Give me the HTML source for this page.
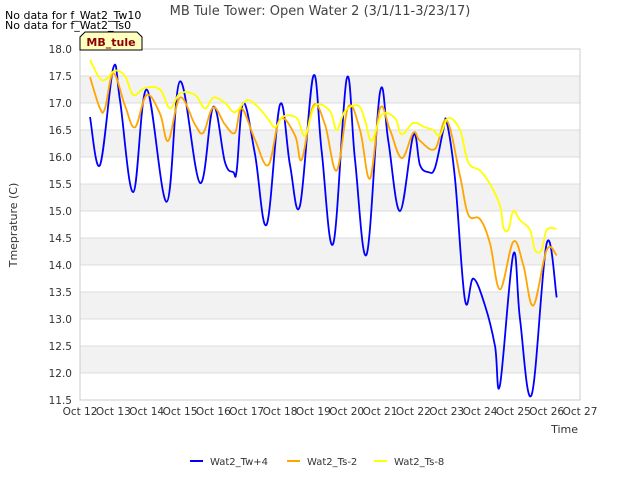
<!DOCTYPE html>
<html><head><meta charset="utf-8"><style>
body{margin:0;background:#fff;font-family:"DejaVu Sans","Liberation Sans",sans-serif;}
svg text{font-family:"DejaVu Sans","Liberation Sans",sans-serif;}
</style></head><body>
<svg id="chart" width="640" height="480" xmlns="http://www.w3.org/2000/svg">
<rect width="640" height="480" fill="#fff"/>
<text x="320" y="15" text-anchor="middle" font-size="13" fill="#444">MB Tule Tower: Open Water 2 (3/1/11-3/23/17)</text>
<text x="5" y="19" font-size="11" fill="#000">No data for f_Wat2_Tw10</text>
<text x="5" y="29" font-size="11" fill="#000">No data for f_Wat2_Ts0</text>
<g id="grid"></g>
<g id="series"></g>
<g>
<path d="M80,50 L80,37 L85,32 L137,32 L142,37 L142,50 Z" fill="#ffffc0" stroke="#000" stroke-width="1"/>
<text x="111" y="46" text-anchor="middle" font-size="11" font-weight="bold" fill="#8b0000">MB_tule</text>
</g>
<text transform="translate(17,225) rotate(-90)" text-anchor="middle" font-size="11" fill="#333">Tmeprature (C)</text>
<text x="578" y="433" text-anchor="end" font-size="11" fill="#333">Time</text>
<g id="legend"></g>
</svg>
<script>
const xTicks=["Oct 12","Oct 13","Oct 14","Oct 15","Oct 16","Oct 17","Oct 18","Oct 19","Oct 20","Oct 21","Oct 22","Oct 23","Oct 24","Oct 25","Oct 26","Oct 27"];
const yTicks=[11.5,12.0,12.5,13.0,13.5,14.0,14.5,15.0,15.5,16.0,16.5,17.0,17.5,18.0];
const seriesNames=["Wat2_Tw+4","Wat2_Ts-2","Wat2_Ts-8"];
const seriesColors=["#0000ff","#ffa500","#ffff00"];
const tw4=[[0.3,16.74],[0.6,15.85],[1.0,17.65],[1.2,17.05],[1.6,15.35],[2.0,17.25],[2.6,15.17],[3.0,17.4],[3.6,15.52],[4.0,16.93],[4.35,15.9],[4.6,15.72],[4.7,15.75],[4.9,17.0],[5.25,16.05],[5.6,14.75],[6.0,16.97],[6.3,15.85],[6.6,15.1],[7.0,17.5],[7.25,16.1],[7.6,14.4],[8.0,17.45],[8.25,15.95],[8.6,14.2],[9.0,17.2],[9.25,16.3],[9.6,15.0],[10.0,16.4],[10.2,15.85],[10.45,15.72],[10.65,15.8],[10.9,16.5],[11.0,16.65],[11.25,15.6],[11.55,13.35],[11.8,13.75],[12.15,13.25],[12.45,12.5],[12.6,11.78],[13.0,14.2],[13.2,13.0],[13.55,11.6],[14.0,14.4],[14.3,13.4]];
const ts2=[[0.3,17.48],[0.6,16.9],[0.75,16.9],[1.0,17.55],[1.35,16.95],[1.65,16.55],[2.0,17.15],[2.4,16.8],[2.65,16.3],[3.0,17.1],[3.45,16.6],[3.7,16.45],[4.0,16.92],[4.35,16.6],[4.65,16.45],[4.85,16.9],[5.25,16.32],[5.65,15.85],[6.0,16.7],[6.45,16.4],[6.65,15.95],[7.0,16.95],[7.35,16.6],[7.7,15.75],[8.05,16.93],[8.4,16.5],[8.7,15.6],[9.0,16.9],[9.3,16.5],[9.65,15.98],[10.0,16.45],[10.2,16.3],[10.65,16.15],[11.0,16.68],[11.4,15.65],[11.65,14.93],[12.0,14.85],[12.3,14.4],[12.6,13.55],[13.0,14.43],[13.3,14.0],[13.6,13.25],[14.0,14.28],[14.3,14.18]];
const ts8=[[0.3,17.8],[0.6,17.45],[0.8,17.45],[1.05,17.6],[1.35,17.5],[1.6,17.15],[1.95,17.28],[2.4,17.25],[2.7,16.9],[3.0,17.18],[3.45,17.15],[3.75,16.9],[4.0,17.1],[4.35,17.0],[4.65,16.83],[5.0,17.05],[5.3,16.95],[5.65,16.7],[5.85,16.55],[6.1,16.75],[6.5,16.72],[6.75,16.4],[7.05,16.95],[7.5,16.85],[7.7,16.5],[7.95,16.85],[8.35,16.95],[8.55,16.68],[8.75,16.3],[9.05,16.78],[9.45,16.72],[9.65,16.42],[10.0,16.63],[10.35,16.55],[10.6,16.5],[10.8,16.4],[11.05,16.72],[11.4,16.5],[11.65,15.9],[12.0,15.75],[12.3,15.5],[12.6,15.1],[12.7,14.7],[12.85,14.65],[13.0,15.0],[13.2,14.83],[13.5,14.65],[13.65,14.28],[13.85,14.28],[14.0,14.65],[14.3,14.67]];
const X0=80,X1=580,Y0=400,Y1=49,YMIN=11.5,YMAX=18.0,DAYS=15;
function xs(d){return X0+(X1-X0)*d/DAYS;}
function ys(v){return Y0-(Y0-Y1)*(v-YMIN)/(YMAX-YMIN);}
function smoothPath(pts){
  let d='M'+pts[0][0].toFixed(1)+','+pts[0][1].toFixed(1);
  for(let i=0;i<pts.length-1;i++){
    const p0=pts[Math.max(0,i-1)],p1=pts[i],p2=pts[i+1],p3=pts[Math.min(pts.length-1,i+2)];
    const t=0.18;
    const c1x=p1[0]+(p2[0]-p0[0])*t,c1y=p1[1]+(p2[1]-p0[1])*t;
    const c2x=p2[0]-(p3[0]-p1[0])*t,c2y=p2[1]-(p3[1]-p1[1])*t;
    d+=' C'+c1x.toFixed(1)+','+c1y.toFixed(1)+' '+c2x.toFixed(1)+','+c2y.toFixed(1)+' '+p2[0].toFixed(1)+','+p2[1].toFixed(1);
  }
  return d;
}
const NS="http://www.w3.org/2000/svg";
const grid=document.getElementById('grid');
for(let i=0;i<yTicks.length-1;i++){
  if(i%2===1){const r=document.createElementNS(NS,'rect');
  
  
  r.setAttribute('x',X0);r.setAttribute('width',X1-X0);
  r.setAttribute('y',ys(yTicks[i+1]));r.setAttribute('height',ys(yTicks[i])-ys(yTicks[i+1]));
  r.setAttribute('fill','#f2f2f2');grid.appendChild(r);}
}
yTicks.forEach(v=>{
  const l=document.createElementNS(NS,'line');
  
  
  l.setAttribute('x1',X0);l.setAttribute('x2',X1);l.setAttribute('y1',ys(v));l.setAttribute('y2',ys(v));
  l.setAttribute('stroke','#dcdcdc');grid.appendChild(l);
  const t=document.createElementNS(NS,'text');
  
  
  t.setAttribute('x',X0-8);t.setAttribute('y',ys(v)+4);t.setAttribute('text-anchor','end');
  t.setAttribute('font-size','10.5');t.setAttribute('fill','#333');t.textContent=v.toFixed(1);grid.appendChild(t);
});
const frame=document.createElementNS(NS,'rect');


frame.setAttribute('x',X0);frame.setAttribute('y',Y1);frame.setAttribute('width',X1-X0);frame.setAttribute('height',Y0-Y1);
frame.setAttribute('fill','none');frame.setAttribute('stroke','#ccc');grid.appendChild(frame);
xTicks.forEach((lab,i)=>{
  const t=document.createElementNS(NS,'text');
  
  
  t.setAttribute('x',xs(i));t.setAttribute('y',Y0+15);t.setAttribute('text-anchor','middle');
  t.setAttribute('font-size','10.5');t.setAttribute('fill','#333');t.textContent=lab;grid.appendChild(t);
});
const sg=document.getElementById('series');
[tw4,ts2,ts8].forEach((data,k)=>{
  const p=document.createElementNS(NS,'path');
  
  
  p.setAttribute('d',smoothPath(data.map(d=>[xs(d[0]),ys(d[1])])));
  p.setAttribute('fill','none');p.setAttribute('stroke',seriesColors[k]);p.setAttribute('stroke-width','1.8');
  sg.appendChild(p);
});
const lg=document.getElementById('legend');
const lx=[190,287,374];
seriesNames.forEach((n,k)=>{
  const g=document.createElementNS(NS,'g');
  
  
  const l=document.createElementNS(NS,'line');
  l.setAttribute('x1',lx[k]);l.setAttribute('x2',lx[k]+13);l.setAttribute('y1',461);l.setAttribute('y2',461);
  l.setAttribute('stroke',seriesColors[k]);l.setAttribute('stroke-width','2');g.appendChild(l);
  const t=document.createElementNS(NS,'text');
  t.setAttribute('x',lx[k]+20);t.setAttribute('y',465);t.setAttribute('font-size','10');t.setAttribute('fill','#333');
  t.textContent=n;g.appendChild(t);lg.appendChild(g);
});
</script>
</body></html>
